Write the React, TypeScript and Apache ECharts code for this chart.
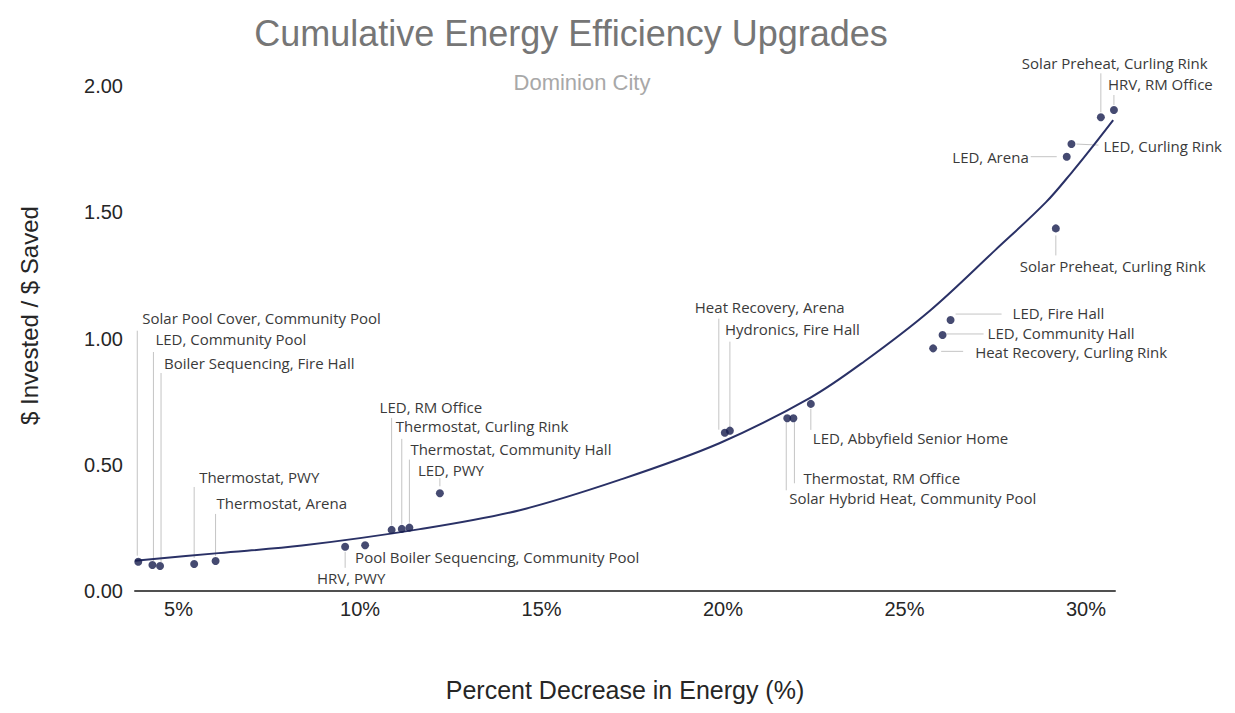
import React, { useEffect, useRef } from "react";
import * as echarts from "echarts";

// ---- Data ----
const upgradeNames = [
  "Solar Pool Cover, Community Pool",
  "LED, Community Pool",
  "Boiler Sequencing, Fire Hall",
  "Thermostat, PWY",
  "Thermostat, Arena",
  "HRV, PWY",
  "Pool Boiler Sequencing, Community Pool",
  "LED, RM Office",
  "Thermostat, Curling Rink",
  "Thermostat, Community Hall",
  "LED, PWY",
  "Heat Recovery, Arena",
  "Hydronics, Fire Hall",
  "Solar Hybrid Heat, Community Pool",
  "Thermostat, RM Office",
  "LED, Abbyfield Senior Home",
  "LED, Fire Hall",
  "LED, Community Hall",
  "Heat Recovery, Curling Rink",
  "Solar Preheat, Curling Rink",
  "LED, Arena",
  "LED, Curling Rink",
  "Solar Preheat, Curling Rink",
  "HRV, RM Office",
];
const percentDecrease = [
  3.89, 4.28, 4.49, 5.43, 6.02, 9.59, 10.14, 10.87, 11.15, 11.36, 12.2, 20.05,
  20.19, 21.77, 21.94, 22.42, 26.27, 26.05, 25.79, 29.17, 29.47, 29.6, 30.41, 30.77,
];
const investedPerSaved = [
  0.116, 0.103, 0.099, 0.107, 0.119, 0.175, 0.181, 0.242, 0.246, 0.251, 0.387,
  0.627, 0.635, 0.684, 0.684, 0.741, 1.073, 1.014, 0.961, 1.436, 1.72, 1.77, 1.876, 1.905,
];
// trendline
const trendX = [3.8, 6.1, 8.4, 11.65, 14.4, 17.15, 19.9, 22.4, 23.9, 25.7, 27.5, 28.9, 29.65, 30.1, 30.75];
const trendY = [0.12, 0.15, 0.18, 0.245, 0.32, 0.44, 0.585, 0.765, 0.91, 1.11, 1.35, 1.54, 1.665, 1.745, 1.865];
const xTicks = [5, 10, 15, 20, 25, 30];
const yTicks = [0, 0.5, 1, 1.5, 2];

// ---- Label layout (pixel offsets from each point) ----
// t: [dx, dy] of text anchor, a: text align, l: leader line [x1, y1, x2, y2] or null
const labelLayout: { t: [number, number]; a: string; l: number[] | null }[] = [
  { t: [4, -244], a: "left", l: [-1, -231, -1, -6] },
  { t: [3, -226], a: "left", l: [1, -213, 1, -4] },
  { t: [4, -203], a: "left", l: [1, -193, 1, -4] },
  { t: [5, -87], a: "left", l: [0, -77, 0, -6] },
  { t: [1, -58], a: "left", l: [0, -47, 0, -5] },
  { t: [6, 31], a: "center", l: [0, 5, 0, 21] },
  { t: [-10, 12], a: "left", l: null },
  { t: [-12, -123], a: "left", l: [0, -112, 0, -5] },
  { t: [-6, -103], a: "left", l: [0, -90, 0, -5] },
  { t: [1, -79], a: "left", l: [0, -68, 0, -5] },
  { t: [-22, -23], a: "left", l: [0, -15, 0, -7] },
  { t: [-30, -126], a: "left", l: [-6, -114, -6, -3] },
  { t: [-5, -102], a: "left", l: [0, -89, 0, -4] },
  { t: [2, 80], a: "left", l: [-1, 4, -1, 72] },
  { t: [10, 60], a: "left", l: [1, 4, 1, 65] },
  { t: [2, 34], a: "left", l: [0, 5, 0, 26] },
  { t: [62, -7], a: "left", l: [5, -6, 51, -6] },
  { t: [45, -2], a: "left", l: [4, -1, 41, -1] },
  { t: [42, 4], a: "left", l: [8, 3, 30, 3] },
  { t: [-36, 38], a: "left", l: [0, 7, 0, 27] },
  { t: [-38, 0], a: "right", l: [-36, 0, -10, 0] },
  { t: [32, 2], a: "left", l: [5, 0, 27, 1] },
  { t: [-79, -54], a: "left", l: [0, -44, 0, -5] },
  { t: [-6, -26], a: "left", l: [0, -15, 0, -5] },
];

const LABEL_FONT = "15px 'Open Sans', sans-serif";
const AXIS_FONT = "'Liberation Sans', Arial, sans-serif";

export default function App() {
  const ref = useRef<HTMLDivElement>(null);

  useEffect(() => {
    if (!ref.current) return;
    const chart = echarts.init(ref.current, null, { renderer: "svg" });
    const points = percentDecrease.map((x, i) => [x, investedPerSaved[i], i]);
    const trend = trendX.map((x, i) => [x, trendY[i]]);

    chart.setOption({
      animation: false,
      backgroundColor: "#ffffff",
      title: [
        {
          text: "Cumulative Energy Efficiency Upgrades",
          left: 566,
          top: 10,
          textAlign: "center",
          textStyle: { fontFamily: AXIS_FONT, fontSize: 36, fontWeight: "normal", color: "#767676" },
        },
        {
          text: "Dominion City",
          left: 577,
          top: 66,
          textAlign: "center",
          textStyle: { fontFamily: AXIS_FONT, fontSize: 22, fontWeight: "normal", color: "#a8a8a8" },
        },
      ],
      grid: { left: 135, right: 120, top: 86, bottom: 122, containLabel: false },
      xAxis: {
        type: "value",
        min: 3.8,
        max: 30.8,
        name: "Percent Decrease in Energy (%)",
        nameLocation: "middle",
        nameGap: 86,
        nameTextStyle: { fontFamily: AXIS_FONT, fontSize: 25, color: "#262626" },
        axisLine: { show: true, lineStyle: { color: "#505050", width: 2 } },
        axisTick: { show: false },
        splitLine: { show: false },
        axisLabel: {
          customValues: xTicks,
          formatter: (v: number) => `${v}%`,
          fontFamily: AXIS_FONT,
          fontSize: 20,
          color: "#262626",
          margin: 8,
        },
      },
      yAxis: {
        type: "value",
        min: 0,
        max: 2,
        interval: 0.5,
        name: "$ Invested / $ Saved",
        nameLocation: "middle",
        nameGap: 94,
        nameTextStyle: { fontFamily: AXIS_FONT, fontSize: 24, color: "#262626", padding: [0, 0, 0, 46] },
        axisLine: { show: false },
        axisTick: { show: false },
        splitLine: { show: false },
        axisLabel: {
          customValues: yTicks,
          formatter: (v: number) => v.toFixed(2),
          fontFamily: AXIS_FONT,
          fontSize: 20,
          color: "#262626",
          margin: 12,
        },
      },
      series: [
        {
          type: "custom",
          name: "labels",
          silent: true,
          clip: false,
          z: 1,
          data: points,
          encode: { x: 0, y: 1 },
          renderItem: (params: any, api: any) => {
            const i = api.value(2);
            const p = api.coord([api.value(0), api.value(1)]);
            const lay = labelLayout[i];
            const children: any[] = [];
            if (lay.l) {
              children.push({
                type: "line",
                shape: { x1: p[0] + lay.l[0], y1: p[1] + lay.l[1], x2: p[0] + lay.l[2], y2: p[1] + lay.l[3] },
                style: { stroke: "#c4c4c4", lineWidth: 1 },
              });
            }
            children.push({
              type: "text",
              style: {
                text: upgradeNames[i],
                x: p[0] + lay.t[0],
                y: p[1] + lay.t[1],
                align: lay.a,
                verticalAlign: "middle",
                font: LABEL_FONT,
                fill: "#3a3a3a",
              },
            });
            return { type: "group", children };
          },
        },
        {
          type: "line",
          name: "trend",
          data: trend,
          smooth: 0.35,
          showSymbol: false,
          silent: true,
          z: 2,
          lineStyle: { color: "#2a3166", width: 2 },
        },
        {
          type: "scatter",
          name: "upgrades",
          data: points,
          symbolSize: 8,
          z: 3,
          itemStyle: { color: "#161d4d" },
        },
      ],
    });
    return () => chart.dispose();
  }, []);

  return (
    <div
      ref={ref}
      style={{ position: "fixed", left: 0, top: 0, width: 1235, height: 713, background: "#fff" }}
    />
  );
}
